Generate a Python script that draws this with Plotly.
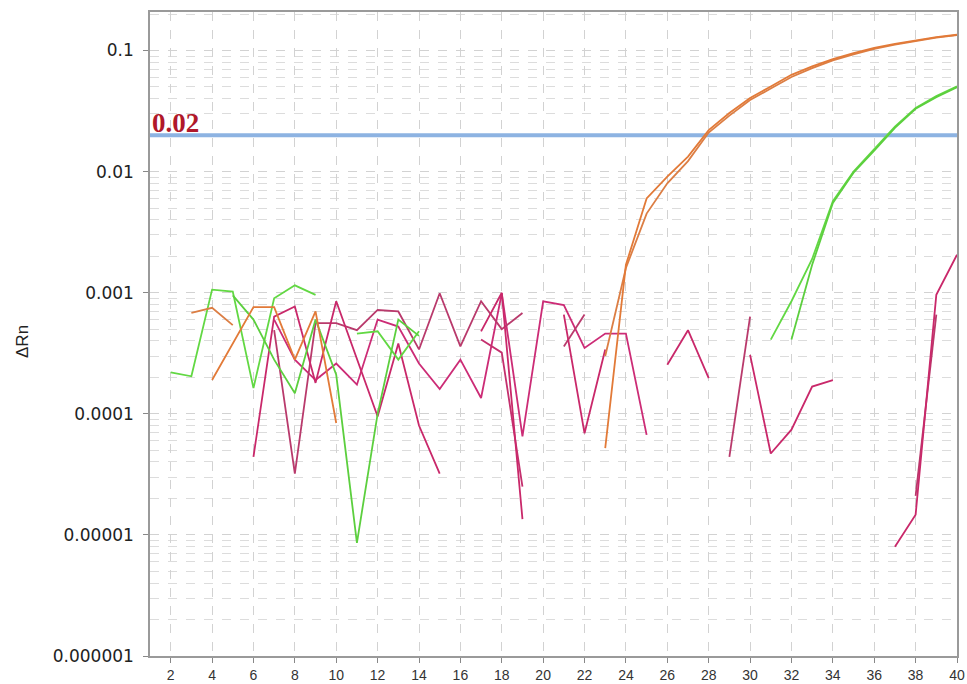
import math
import plotly.graph_objects as go

# ---------------- data ----------------
cycles = list(range(1, 41))
N = None

# index = cycle - 1 (cycles 1..40); None = value not plotted (<= 0 on log scale)
orange_1 = [N, N, N, 1.9e-4, 3.8e-4, 7.6e-4, 7.6e-4, 2.8e-4, 7.0e-4, 8.4e-5,
            N, N, N, N, N, N, N, N, N, N,
            N, N, 5.2e-5, 1.7e-3, 6.0e-3, 9.1e-3, 1.33e-2, 2.2e-2, 3.05e-2, 4.05e-2,
            5.05e-2, 6.3e-2, 7.4e-2, 8.5e-2, 9.5e-2, 0.105, 0.1135, 0.121, 0.129, 0.135]
orange_2 = [N, N, 6.8e-4, 7.5e-4, 5.4e-4, N, N, N, N, N,
            N, N, N, N, N, N, N, N, N, N,
            N, N, 3.0e-4, 1.6e-3, 4.5e-3, 8.0e-3, 1.22e-2, 2.1e-2, 2.9e-2, 3.9e-2,
            4.85e-2, 6.05e-2, 7.15e-2, 8.3e-2, 9.3e-2, 0.103, 0.112, 0.12, 0.128, 0.134]
green_1 = [N, 2.2e-4, 2.04e-4, 1.06e-3, 1.02e-3, 1.63e-4, 9.0e-4, 1.15e-3, 9.6e-4, N,
           4.6e-4, 4.8e-4, 2.8e-4, 4.8e-4, N, N, N, N, N, N,
           N, N, N, N, N, N, N, N, N, N,
           4.1e-4, 8.5e-4, 1.9e-3, 5.7e-3, 1.0e-2, 1.52e-2, 2.35e-2, 3.35e-2, 4.2e-2, 5.05e-2]
green_2 = [N, N, N, N, 9.5e-4, 6.0e-4, 2.8e-4, 1.48e-4, 6.0e-4, 2.1e-4,
           8.6e-6, 1.0e-4, 6.0e-4, 4.4e-4, N, N, N, N, N, N,
           N, N, N, N, N, N, N, N, N, N,
           N, 4.1e-4, 1.7e-3, 5.5e-3, 9.8e-3, 1.49e-2, 2.3e-2, 3.3e-2, 4.12e-2, 4.98e-2]
magenta_1 = [N, N, N, N, N, 4.4e-5, 6.35e-4, 7.7e-4, 1.8e-4, 8.5e-4,
             2.8e-4, 9.5e-5, 3.8e-4, 8.0e-5, 3.2e-5, N, 4.8e-4, 1.0e-3, 1.35e-5, N,
             6.6e-4, 6.9e-5, 3.4e-4, N, N, 2.54e-4, 4.9e-4, 1.97e-4, N, 3.07e-4,
             4.7e-5, 7.4e-5, 1.68e-4, 1.9e-4, N, N, 8.0e-6, 1.47e-5, 9.6e-4, 2.06e-3]
magenta_2 = [N, N, N, N, N, N, 4.9e-4, 3.2e-5, 5.6e-4, 5.6e-4,
             4.9e-4, 7.2e-4, 7.0e-4, 3.4e-4, 9.9e-4, 3.6e-4, 8.5e-4, 5.0e-4, 6.8e-4, N,
             3.6e-4, 6.6e-4, N, N, N, N, N, N, 4.4e-5, 6.35e-4,
             N, N, N, N, N, N, N, 2.1e-5, 6.6e-4, N]
magenta_3 = [N, N, N, N, N, N, 6.0e-4, 2.8e-4, 1.9e-4, 2.6e-4,
             1.74e-4, 6.0e-4, 5.25e-4, 2.6e-4, 1.6e-4, 2.8e-4, 1.35e-4, 9.9e-4, 6.5e-5, 8.5e-4,
             7.9e-4, 3.5e-4, 4.6e-4, 4.6e-4, 6.7e-5, N, N, N, N, N,
             N, N, N, N, N, N, N, N, N, N]
magenta_4 = [N, N, N, N, N, N, N, N, N, N,
             N, N, N, N, N, N, 4.1e-4, 3.2e-4, 2.5e-5, N,
             N, N, N, N, N, N, N, N, N, N,
             N, N, N, N, N, N, N, N, N, N]

threshold = 0.02
threshold_label = "0.02"
x_tick_vals = list(range(2, 41, 2))
y_tick_vals = [1e-6, 1e-5, 1e-4, 1e-3, 1e-2, 1e-1]
y_tick_text = ["0.000001", "0.00001", "0.0001", "0.001", "0.01", "0.1"]
y_title = "ΔRn"

# ---------------- styles ----------------
series = [
    (magenta_3, "#cc2c76"),
    (magenta_2, "#b93a6c"),
    (magenta_4, "#c4306e"),
    (magenta_1, "#c9286a"),
    (green_1, "#62d843"),
    (green_2, "#5ccf3e"),
    (orange_2, "#dc7e44"),
    (orange_1, "#e27a38"),
]

fig = go.Figure()
fig.add_trace(go.Scatter(x=[1, 40], y=[threshold, threshold], mode="lines",
                         line=dict(color="#8db3e2", width=4), hoverinfo="skip"))
for vals, color in series:
    fig.add_trace(go.Scatter(x=cycles, y=vals, mode="lines", connectgaps=False,
                             line=dict(color=color, width=1.8)))

grid_col = "#d2d2d2"
fig.update_layout(
    width=967, height=684,
    margin=dict(l=150, r=10, t=12, b=28, autoexpand=False),
    paper_bgcolor="white", plot_bgcolor="white",
    showlegend=False,
    xaxis=dict(range=[1, 40], tickmode="array", tickvals=x_tick_vals,
               automargin=False,
               ticks="outside", ticklen=5, tickcolor="#888888",
               showline=True, linecolor="#9a9a9a", linewidth=1.5, mirror=True,
               showgrid=True, gridcolor=grid_col, griddash="dash", gridwidth=1,
               zeroline=False,
               tickfont=dict(family="Liberation Sans Narrow, Liberation Sans, Arial", size=14, color="#333333")),
    yaxis=dict(type="log", range=[-6, -0.682], tickmode="array",
               tickvals=y_tick_vals, ticktext=y_tick_text,
               automargin=False,
               ticks="outside", ticklen=5, tickcolor="#888888",
               showline=True, linecolor="#9a9a9a", linewidth=1.5, mirror=True,
               showgrid=True, gridcolor=grid_col, griddash="dash", gridwidth=1,
               minor=dict(dtick="D1", showgrid=True, gridcolor="#dcdcdc",
                          griddash="dash", ticks=""),
               zeroline=False, ticklabelstandoff=6,
               tickfont=dict(family="DejaVu Sans", size=17, color="#222222")),
    annotations=[
        dict(x=1, y=math.log10(threshold), xref="x", yref="y",
             text=threshold_label, showarrow=False, xanchor="left", yanchor="bottom",
             yshift=-5, font=dict(family="Liberation Serif", size=27, color="#b0182a", weight="bold")),
        dict(x=(22 - 150) / 807, y=(656 - 342) / 644, xref="paper", yref="paper",
             text=y_title, showarrow=False, textangle=-90, xanchor="center", yanchor="middle",
             font=dict(family="Liberation Sans, Arial", size=17, color="#222222")),
    ],
)

fig.write_html("out.html")
